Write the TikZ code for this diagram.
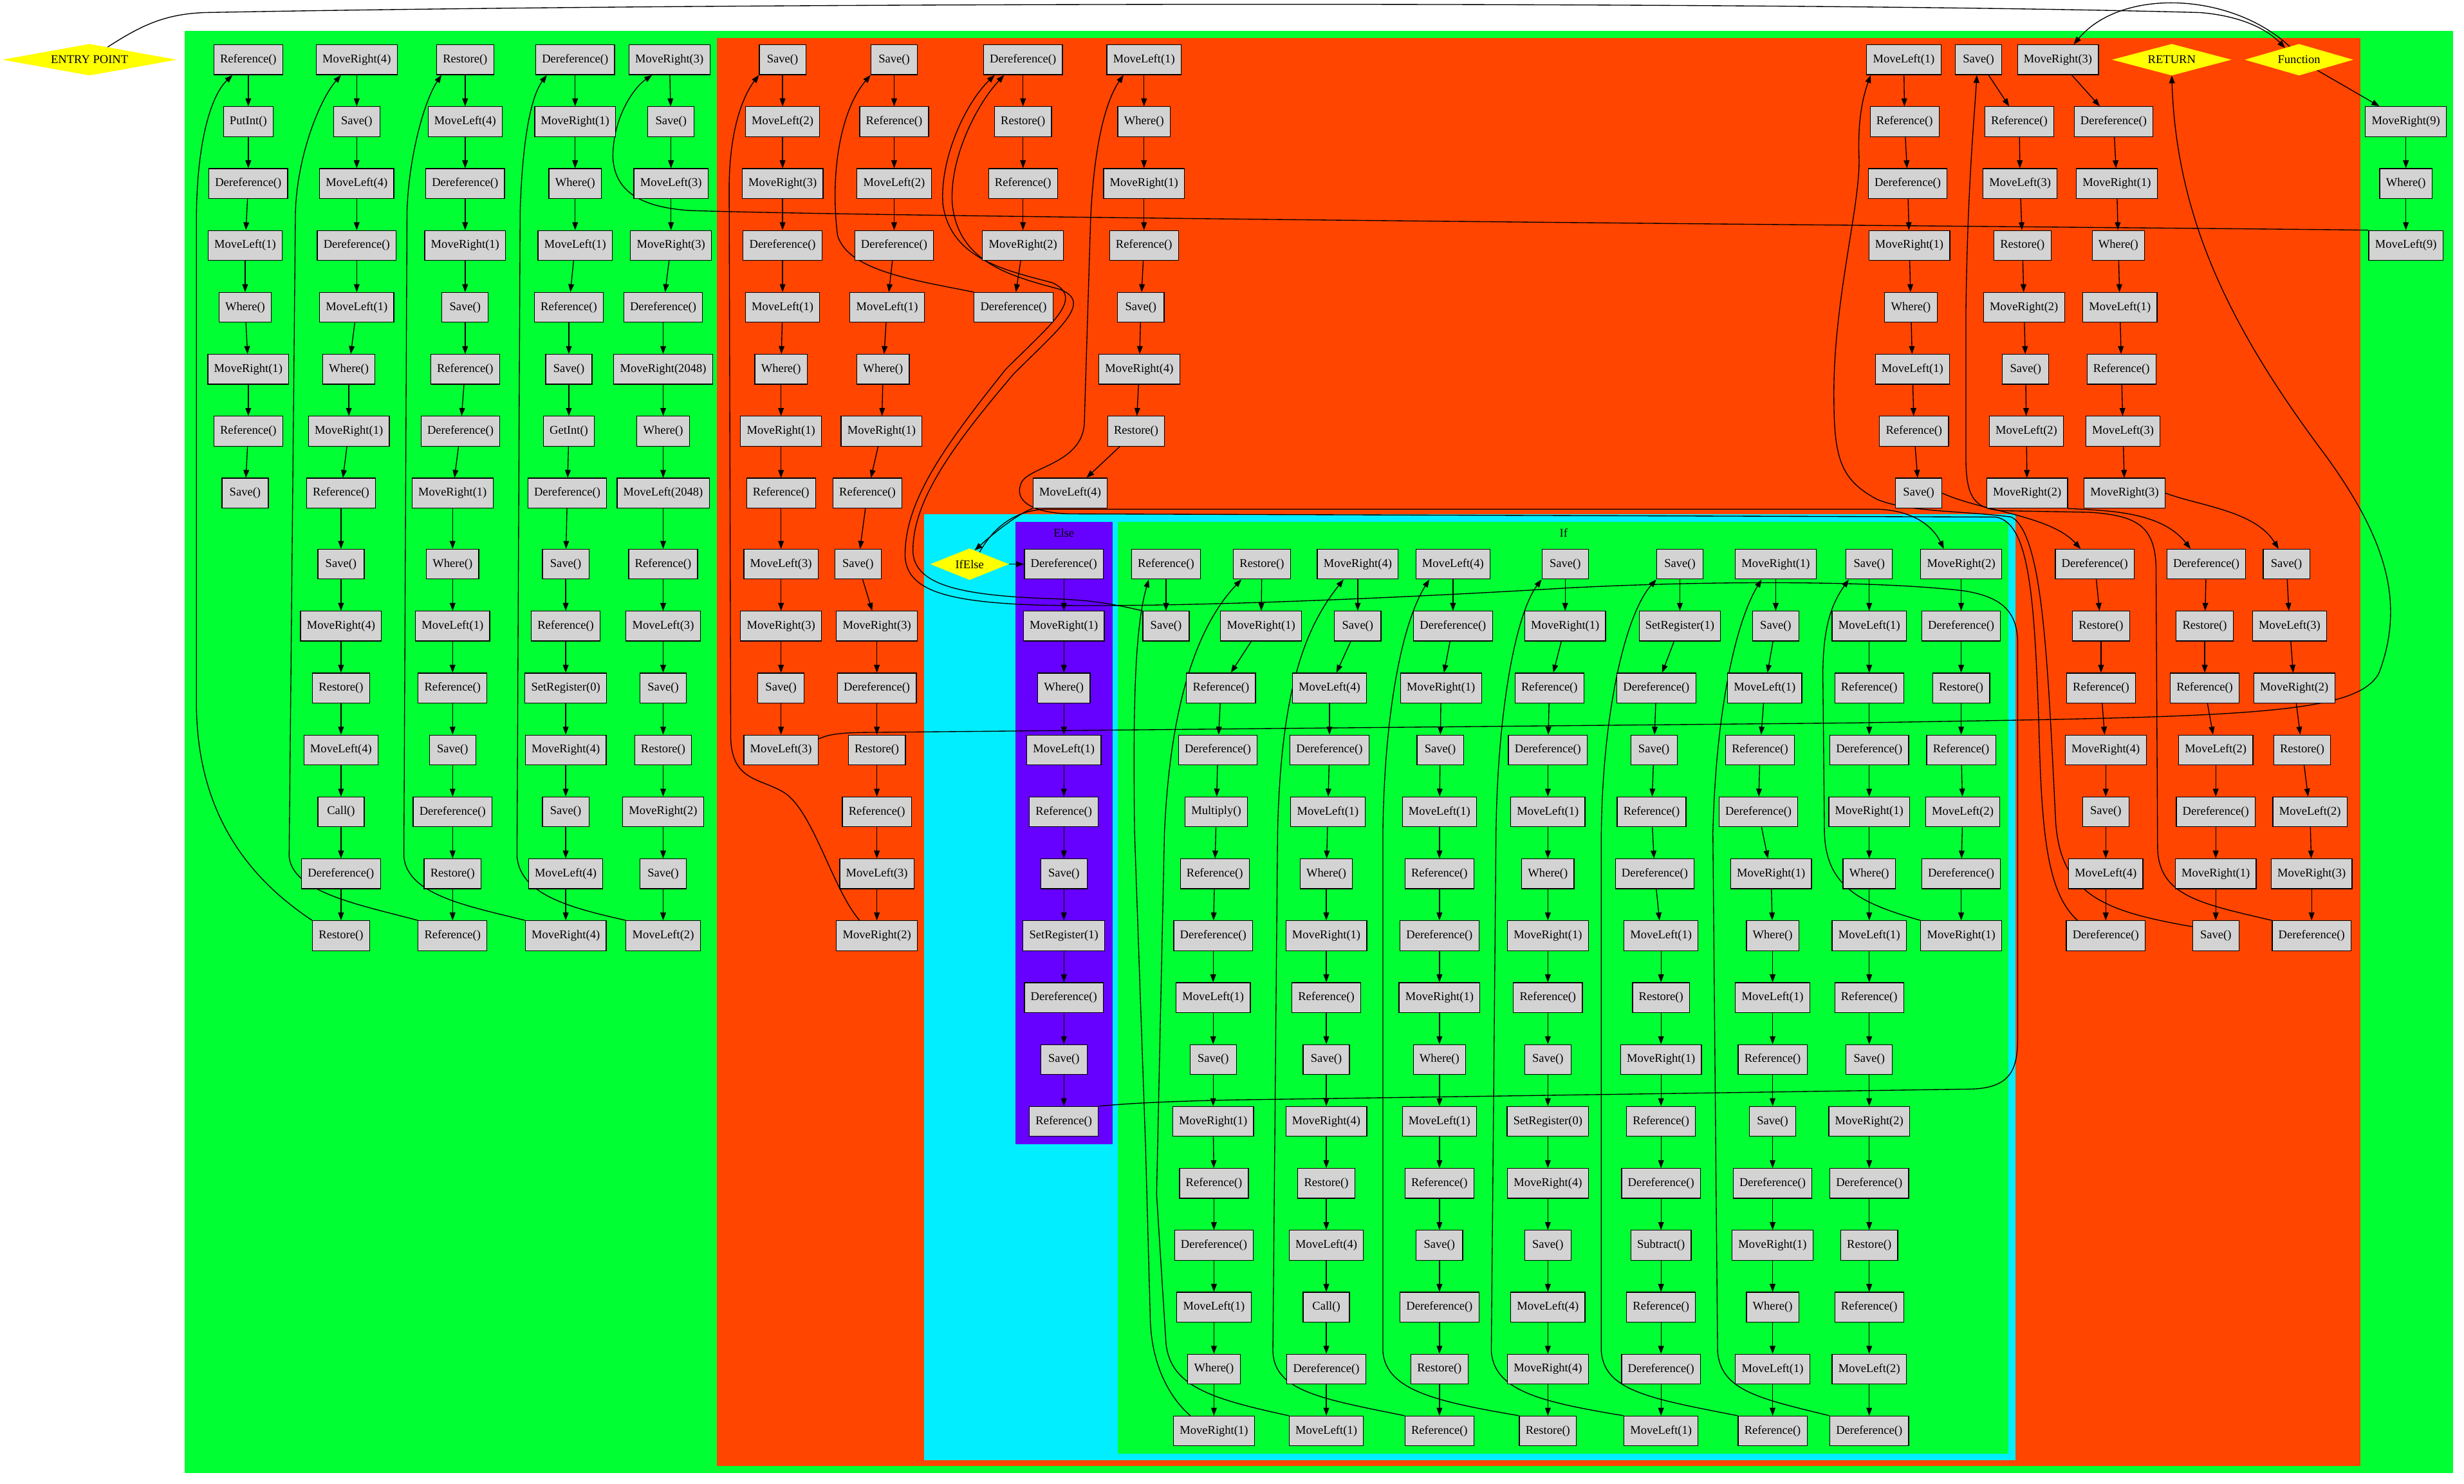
\documentclass[tikz,border=0pt]{standalone}
\usepackage{fontspec}
\setmainfont{Liberation Serif}
\usetikzlibrary{shapes.geometric,arrows.meta}
\definecolor{gvgreen}{HTML}{00FF33}
\definecolor{gvred}{HTML}{FF4500}
\definecolor{gvcyan}{HTML}{00EEFF}
\definecolor{gvpurple}{HTML}{6600FF}
\definecolor{gvgray}{HTML}{D3D3D3}
\definecolor{gvyellow}{HTML}{FFFF00}
\newcommand\gvfont{\fontsize{7.6}{9}\selectfont}
\pgfdeclarelayer{clusters}\pgfdeclarelayer{edges}\pgfsetlayers{clusters,edges,main}
\tikzset{
 box/.style={draw=black, line width=0.5pt, fill=gvgray, minimum height=19pt, minimum width=29.5pt, inner xsep=4pt, inner ysep=0pt, font=\gvfont},
 gvdiamond/.style={diamond, fill=gvyellow, draw=none, inner sep=0pt, outer sep=0pt, font=\gvfont},
 edge/.style={draw=black, line width=0.55pt, -{Triangle[length=5pt,width=3.6pt]}},
 clabel/.style={font=\gvfont, inner sep=0pt},
}
\newcommand\chainof[2]{\foreach \i [evaluate=\i as \j using int(\i+1)] in {1,...,#2}{\draw[edge] (#1\i) -- (#1\j);}}
\begin{document}
\begin{tikzpicture}[x=1pt,y=-1pt]
\useasboundingbox (0,0) rectangle (1568,944);
\begin{pgfonlayer}{clusters}
\fill[white] (0,0) rectangle (1568,944);
\fill[gvgreen] (117.5,19.5) rectangle (1561,937.5);
\fill[gvred] (456,24) rectangle (1502,933);
\fill[gvcyan] (588,327) rectangle (1282.5,929);
\fill[gvpurple] (646,332) rectangle (708,728);
\fill[gvgreen] (711.5,332) rectangle (1278,925);
\node[clabel] (elselabel) at (677,339) {Else};
\node[clabel] (iflabel) at (995,339) {If};
\end{pgfonlayer}

% diamonds
\node[gvdiamond, shape aspect=5.5, minimum width=111pt, minimum height=20pt] (entry) at (57,38) {ENTRY POINT};
\node[gvdiamond, shape aspect=3.8, minimum width=76pt, minimum height=20pt] (ret) at (1382,38) {RETURN};
\node[gvdiamond, shape aspect=3.45, minimum width=69pt, minimum height=20pt] (func) at (1463,38) {Function};
\node[gvdiamond, shape aspect=2.5, minimum width=50pt, minimum height=20pt] (ifelse) at (617,359) {IfElse};

% column A
\node[box] (A1) at (158,38) {Reference()};
\node[box] (A2) at (158,77.4) {PutInt()};
\node[box] (A3) at (158,116.8) {Dereference()};
\node[box] (A4) at (156,156.2) {MoveLeft(1)};
\node[box] (A5) at (156,195.6) {Where()};
\node[box] (A6) at (158,235) {MoveRight(1)};
\node[box] (A7) at (158,274.4) {Reference()};
\node[box] (A8) at (156,313.8) {Save()};
% column B
\node[box] (B1) at (227,38) {MoveRight(4)};
\node[box] (B2) at (227,77.4) {Save()};
\node[box] (B3) at (227,116.8) {MoveLeft(4)};
\node[box] (B4) at (227,156.2) {Dereference()};
\node[box] (B5) at (227,195.6) {MoveLeft(1)};
\node[box] (B6) at (222,235) {Where()};
\node[box] (B7) at (222,274.4) {MoveRight(1)};
\node[box] (B8) at (217,313.8) {Reference()};
\node[box] (B9) at (217,359) {Save()};
\node[box] (B10) at (217,398.4) {MoveRight(4)};
\node[box] (B11) at (217,437.8) {Restore()};
\node[box] (B12) at (217,477.2) {MoveLeft(4)};
\node[box] (B13) at (217,516.6) {Call()};
\node[box] (B14) at (217,556) {Dereference()};
\node[box] (B15) at (217,595.4) {Restore()};
% column C
\node[box] (C1) at (296,38) {Restore()};
\node[box] (C2) at (296,77.4) {MoveLeft(4)};
\node[box] (C3) at (296,116.8) {Dereference()};
\node[box] (C4) at (296,156.2) {MoveRight(1)};
\node[box] (C5) at (296,195.6) {Save()};
\node[box] (C6) at (296,235) {Reference()};
\node[box] (C7) at (293,274.4) {Dereference()};
\node[box] (C8) at (288,313.8) {MoveRight(1)};
\node[box] (C9) at (288,359) {Where()};
\node[box] (C10) at (288,398.4) {MoveLeft(1)};
\node[box] (C11) at (288,437.8) {Reference()};
\node[box] (C12) at (288,477.2) {Save()};
\node[box] (C13) at (288,516.6) {Dereference()};
\node[box] (C14) at (288,556) {Restore()};
\node[box] (C15) at (288,595.4) {Reference()};
% column D
\node[box] (D1) at (366,38) {Dereference()};
\node[box] (D2) at (366,77.4) {MoveRight(1)};
\node[box] (D3) at (366,116.8) {Where()};
\node[box] (D4) at (366,156.2) {MoveLeft(1)};
\node[box] (D5) at (362,195.6) {Reference()};
\node[box] (D6) at (362,235) {Save()};
\node[box] (D7) at (362,274.4) {GetInt()};
\node[box] (D8) at (361,313.8) {Dereference()};
\node[box] (D9) at (360,359) {Save()};
\node[box] (D10) at (360,398.4) {Reference()};
\node[box] (D11) at (360,437.8) {SetRegister(0)};
\node[box] (D12) at (360,477.2) {MoveRight(4)};
\node[box] (D13) at (360,516.6) {Save()};
\node[box] (D14) at (360,556) {MoveLeft(4)};
\node[box] (D15) at (360,595.4) {MoveRight(4)};
% column E
\node[box] (E1) at (426,38) {MoveRight(3)};
\node[box] (E2) at (427,77.4) {Save()};
\node[box] (E3) at (427,116.8) {MoveLeft(3)};
\node[box] (E4) at (427,156.2) {MoveRight(3)};
\node[box] (E5) at (422,195.6) {Dereference()};
\node[box] (E6) at (422,235) {MoveRight(2048)};
\node[box] (E7) at (422,274.4) {Where()};
\node[box] (E8) at (422,313.8) {MoveLeft(2048)};
\node[box] (E9) at (422,359) {Reference()};
\node[box] (E10) at (422,398.4) {MoveLeft(3)};
\node[box] (E11) at (422,437.8) {Save()};
\node[box] (E12) at (422,477.2) {Restore()};
\node[box] (E13) at (422,516.6) {MoveRight(2)};
\node[box] (E14) at (422,556) {Save()};
\node[box] (E15) at (422,595.4) {MoveLeft(2)};
% right main column
\node[box] (M1) at (1531,77.4) {MoveRight(9)};
\node[box] (M2) at (1531,116.8) {Where()};
\node[box] (M3) at (1531,156.2) {MoveLeft(9)};
% red P
\node[box] (P1) at (498,38) {Save()};
\node[box] (P2) at (498,77.4) {MoveLeft(2)};
\node[box] (P3) at (498,116.8) {MoveRight(3)};
\node[box] (P4) at (498,156.2) {Dereference()};
\node[box] (P5) at (498,195.6) {MoveLeft(1)};
\node[box] (P6) at (497,235) {Where()};
\node[box] (P7) at (497,274.4) {MoveRight(1)};
\node[box] (P8) at (497,313.8) {Reference()};
\node[box] (P9) at (497,359) {MoveLeft(3)};
\node[box] (P10) at (497,398.4) {MoveRight(3)};
\node[box] (P11) at (497,437.8) {Save()};
\node[box] (P12) at (497,477.2) {MoveLeft(3)};
% red Q
\node[box] (Q1) at (569,38) {Save()};
\node[box] (Q2) at (569,77.4) {Reference()};
\node[box] (Q3) at (569,116.8) {MoveLeft(2)};
\node[box] (Q4) at (569,156.2) {Dereference()};
\node[box] (Q5) at (564.5,195.6) {MoveLeft(1)};
\node[box] (Q6) at (562,235) {Where()};
\node[box] (Q7) at (561,274.4) {MoveRight(1)};
\node[box] (Q8) at (552,313.8) {Reference()};
\node[box] (Q9) at (546,359) {Save()};
\node[box] (Q10) at (558,398.4) {MoveRight(3)};
\node[box] (Q11) at (558,437.8) {Dereference()};
\node[box] (Q12) at (558,477.2) {Restore()};
\node[box] (Q13) at (558,516.6) {Reference()};
\node[box] (Q14) at (558,556) {MoveLeft(3)};
\node[box] (Q15) at (558,595.4) {MoveRight(2)};
% red S
\node[box] (S1) at (651,38) {Dereference()};
\node[box] (S2) at (651,77.4) {Restore()};
\node[box] (S3) at (651,116.8) {Reference()};
\node[box] (S4) at (651,156.2) {MoveRight(2)};
\node[box] (S5) at (645,195.6) {Dereference()};
% red U
\node[box] (U1) at (728,38) {MoveLeft(1)};
\node[box] (U2) at (728,77.4) {Where()};
\node[box] (U3) at (728,116.8) {MoveRight(1)};
\node[box] (U4) at (728,156.2) {Reference()};
\node[box] (U5) at (726,195.6) {Save()};
\node[box] (U6) at (725,235) {MoveRight(4)};
\node[box] (U7) at (723,274.4) {Restore()};
\node[box] (U8) at (681,313.8) {MoveLeft(4)};
% red V
\node[box] (V1) at (1211.5,38) {MoveLeft(1)};
\node[box] (V2) at (1212,77.4) {Reference()};
\node[box] (V3) at (1214,116.8) {Dereference()};
\node[box] (V4) at (1215,156.2) {MoveRight(1)};
\node[box] (V5) at (1216,195.6) {Where()};
\node[box] (V6) at (1217,235) {MoveLeft(1)};
\node[box] (V7) at (1218,274.4) {Reference()};
\node[box] (V8) at (1221,313.8) {Save()};
% red W
\node[box] (W1) at (1259,38) {Save()};
\node[box] (W2) at (1285,77.4) {Reference()};
\node[box] (W3) at (1285.5,116.8) {MoveLeft(3)};
\node[box] (W4) at (1287,156.2) {Restore()};
\node[box] (W5) at (1288,195.6) {MoveRight(2)};
\node[box] (W6) at (1289,235) {Save()};
\node[box] (W7) at (1289.5,274.4) {MoveLeft(2)};
\node[box] (W8) at (1290,313.8) {MoveRight(2)};
% red X
\node[box] (X1) at (1309.6,38) {MoveRight(3)};
\node[box] (X2) at (1345,77.4) {Dereference()};
\node[box] (X3) at (1347,116.8) {MoveRight(1)};
\node[box] (X4) at (1348,156.2) {Where()};
\node[box] (X5) at (1349,195.6) {MoveLeft(1)};
\node[box] (X6) at (1350,235) {Reference()};
\node[box] (X7) at (1351,274.4) {MoveLeft(3)};
\node[box] (X8) at (1352,313.8) {MoveRight(3)};
% red Y
\node[box] (Y1) at (1333,359) {Dereference()};
\node[box] (Y2) at (1337,398.4) {Restore()};
\node[box] (Y3) at (1337,437.8) {Reference()};
\node[box] (Y4) at (1340,477.2) {MoveRight(4)};
\node[box] (Y5) at (1340,516.6) {Save()};
\node[box] (Y6) at (1340,556) {MoveLeft(4)};
\node[box] (Y7) at (1340,595.4) {Dereference()};
% red Z
\node[box] (Z1) at (1404,359) {Dereference()};
\node[box] (Z2) at (1403,398.4) {Restore()};
\node[box] (Z3) at (1403,437.8) {Reference()};
\node[box] (Z4) at (1410,477.2) {MoveLeft(2)};
\node[box] (Z5) at (1410,516.6) {Dereference()};
\node[box] (Z6) at (1410,556) {MoveRight(1)};
\node[box] (Z7) at (1410,595.4) {Save()};
% red K
\node[box] (K1) at (1455,359) {Save()};
\node[box] (K2) at (1457,398.4) {MoveLeft(3)};
\node[box] (K3) at (1460,437.8) {MoveRight(2)};
\node[box] (K4) at (1465,477.2) {Restore()};
\node[box] (K5) at (1470,516.6) {MoveLeft(2)};
\node[box] (K6) at (1471,556) {MoveRight(3)};
\node[box] (K7) at (1471,595.4) {Dereference()};
% Else
\node[box] (EL1) at (677,359) {Dereference()};
\node[box] (EL2) at (677,398.4) {MoveRight(1)};
\node[box] (EL3) at (677,437.8) {Where()};
\node[box] (EL4) at (677,477.2) {MoveLeft(1)};
\node[box] (EL5) at (677,516.6) {Reference()};
\node[box] (EL6) at (677,556) {Save()};
\node[box] (EL7) at (677,595.4) {SetRegister(1)};
\node[box] (EL8) at (677,634.8) {Dereference()};
\node[box] (EL9) at (677,674.2) {Save()};
\node[box] (EL10) at (677,713.6) {Reference()};
% If IA
\node[box] (IA1) at (742,359) {Reference()};
\node[box] (IA2) at (742,398.4) {Save()};
% IB
\node[box] (IB1) at (803,359) {Restore()};
\node[box] (IB2) at (802.5,398.4) {MoveRight(1)};
\node[box] (IB3) at (777,437.8) {Reference()};
\node[box] (IB4) at (775,477.2) {Dereference()};
\node[box] (IB5) at (774,516.6) {Multiply()};
\node[box] (IB6) at (773,556) {Reference()};
\node[box] (IB7) at (772,595.4) {Dereference()};
\node[box] (IB8) at (772,634.8) {MoveLeft(1)};
\node[box] (IB9) at (772,674.2) {Save()};
\node[box] (IB10) at (772,713.6) {MoveRight(1)};
\node[box] (IB11) at (772.5,753) {Reference()};
\node[box] (IB12) at (772.5,792.4) {Dereference()};
\node[box] (IB13) at (772.5,831.8) {MoveLeft(1)};
\node[box] (IB14) at (772.5,871.2) {Where()};
\node[box] (IB15) at (772.5,910.6) {MoveRight(1)};
% IC
\node[box] (IC1) at (864,359) {MoveRight(4)};
\node[box] (IC2) at (864,398.4) {Save()};
\node[box] (IC3) at (846,437.8) {MoveLeft(4)};
\node[box] (IC4) at (846,477.2) {Dereference()};
\node[box] (IC5) at (845,516.6) {MoveLeft(1)};
\node[box] (IC6) at (844,556) {Where()};
\node[box] (IC7) at (844,595.4) {MoveRight(1)};
\node[box] (IC8) at (844,634.8) {Reference()};
\node[box] (IC9) at (844,674.2) {Save()};
\node[box] (IC10) at (844,713.6) {MoveRight(4)};
\node[box] (IC11) at (844,753) {Restore()};
\node[box] (IC12) at (844,792.4) {MoveLeft(4)};
\node[box] (IC13) at (844,831.8) {Call()};
\node[box] (IC14) at (844,871.2) {Dereference()};
\node[box] (IC15) at (844,910.6) {MoveLeft(1)};
% ID
\node[box] (ID1) at (924.6,359) {MoveLeft(4)};
\node[box] (ID2) at (924.6,398.4) {Dereference()};
\node[box] (ID3) at (917,437.8) {MoveRight(1)};
\node[box] (ID4) at (916.5,477.2) {Save()};
\node[box] (ID5) at (916,516.6) {MoveLeft(1)};
\node[box] (ID6) at (916,556) {Reference()};
\node[box] (ID7) at (916,595.4) {Dereference()};
\node[box] (ID8) at (916,634.8) {MoveRight(1)};
\node[box] (ID9) at (916,674.2) {Where()};
\node[box] (ID10) at (916,713.6) {MoveLeft(1)};
\node[box] (ID11) at (916,753) {Reference()};
\node[box] (ID12) at (916,792.4) {Save()};
\node[box] (ID13) at (916,831.8) {Dereference()};
\node[box] (ID14) at (916,871.2) {Restore()};
\node[box] (ID15) at (916,910.6) {Reference()};
% IE
\node[box] (IE1) at (996,359) {Save()};
\node[box] (IE2) at (996,398.4) {MoveRight(1)};
\node[box] (IE3) at (986,437.8) {Reference()};
\node[box] (IE4) at (985,477.2) {Dereference()};
\node[box] (IE5) at (985,516.6) {MoveLeft(1)};
\node[box] (IE6) at (985,556) {Where()};
\node[box] (IE7) at (985,595.4) {MoveRight(1)};
\node[box] (IE8) at (985,634.8) {Reference()};
\node[box] (IE9) at (985,674.2) {Save()};
\node[box] (IE10) at (985,713.6) {SetRegister(0)};
\node[box] (IE11) at (985,753) {MoveRight(4)};
\node[box] (IE12) at (985,792.4) {Save()};
\node[box] (IE13) at (985,831.8) {MoveLeft(4)};
\node[box] (IE14) at (985,871.2) {MoveRight(4)};
\node[box] (IE15) at (985,910.6) {Restore()};
% IF
\node[box] (IF1) at (1069,359) {Save()};
\node[box] (IF2) at (1069,398.4) {SetRegister(1)};
\node[box] (IF3) at (1054,437.8) {Dereference()};
\node[box] (IF4) at (1052.5,477.2) {Save()};
\node[box] (IF5) at (1051,516.6) {Reference()};
\node[box] (IF6) at (1053,556) {Dereference()};
\node[box] (IF7) at (1057,595.4) {MoveLeft(1)};
\node[box] (IF8) at (1057,634.8) {Restore()};
\node[box] (IF9) at (1057,674.2) {MoveRight(1)};
\node[box] (IF10) at (1057,713.6) {Reference()};
\node[box] (IF11) at (1057,753) {Dereference()};
\node[box] (IF12) at (1057,792.4) {Subtract()};
\node[box] (IF13) at (1057,831.8) {Reference()};
\node[box] (IF14) at (1057,871.2) {Dereference()};
\node[box] (IF15) at (1057,910.6) {MoveLeft(1)};
% IG
\node[box] (IG1) at (1130,359) {MoveRight(1)};
\node[box] (IG2) at (1130,398.4) {Save()};
\node[box] (IG3) at (1123,437.8) {MoveLeft(1)};
\node[box] (IG4) at (1120,477.2) {Reference()};
\node[box] (IG5) at (1119,516.6) {Dereference()};
\node[box] (IG6) at (1127,556) {MoveRight(1)};
\node[box] (IG7) at (1128,595.4) {Where()};
\node[box] (IG8) at (1128,634.8) {MoveLeft(1)};
\node[box] (IG9) at (1128,674.2) {Reference()};
\node[box] (IG10) at (1128,713.6) {Save()};
\node[box] (IG11) at (1128,753) {Dereference()};
\node[box] (IG12) at (1128,792.4) {MoveRight(1)};
\node[box] (IG13) at (1128,831.8) {Where()};
\node[box] (IG14) at (1128,871.2) {MoveLeft(1)};
\node[box] (IG15) at (1128,910.6) {Reference()};
% IH
\node[box] (IH1) at (1189.5,359) {Save()};
\node[box] (IH2) at (1189.5,398.4) {MoveLeft(1)};
\node[box] (IH3) at (1189.5,437.8) {Reference()};
\node[box] (IH4) at (1189.5,477.2) {Dereference()};
\node[box] (IH5) at (1189.5,516.6) {MoveRight(1)};
\node[box] (IH6) at (1189.5,556) {Where()};
\node[box] (IH7) at (1189.5,595.4) {MoveLeft(1)};
\node[box] (IH8) at (1189.5,634.8) {Reference()};
\node[box] (IH9) at (1189.5,674.2) {Save()};
\node[box] (IH10) at (1189.5,713.6) {MoveRight(2)};
\node[box] (IH11) at (1189.5,753) {Dereference()};
\node[box] (IH12) at (1189.5,792.4) {Restore()};
\node[box] (IH13) at (1189.5,831.8) {Reference()};
\node[box] (IH14) at (1189.5,871.2) {MoveLeft(2)};
\node[box] (IH15) at (1189.5,910.6) {Dereference()};
% II
\node[box] (II1) at (1248,359) {MoveRight(2)};
\node[box] (II2) at (1248,398.4) {Dereference()};
\node[box] (II3) at (1248,437.8) {Restore()};
\node[box] (II4) at (1248,477.2) {Reference()};
\node[box] (II5) at (1249,516.6) {MoveLeft(2)};
\node[box] (II6) at (1248,556) {Dereference()};
\node[box] (II7) at (1248,595.4) {MoveRight(1)};

\begin{pgfonlayer}{edges}
% straight chains
\chainof{A}{7}\chainof{B}{14}\chainof{C}{14}\chainof{D}{14}\chainof{E}{14}\chainof{M}{2}
\chainof{P}{11}\chainof{Q}{14}\chainof{S}{4}\chainof{U}{7}\chainof{V}{7}\chainof{W}{7}\chainof{X}{7}
\chainof{Y}{6}\chainof{Z}{6}\chainof{K}{6}\chainof{EL}{9}\chainof{IA}{1}
\chainof{IB}{14}\chainof{IC}{14}\chainof{ID}{14}\chainof{IE}{14}\chainof{IF}{14}\chainof{IG}{14}\chainof{IH}{14}\chainof{II}{6}
% entry and function
\draw[edge] (entry.35) .. controls (90,16) and (105,9) .. (130,8) .. controls (500,1) and (1150,1) .. (1400,8) .. controls (1425,10) and (1442,18) .. (func.140);
\draw[edge] (func.125) .. controls (1420,-5) and (1350,-8) .. ([xshift=10pt]X1.south |- X1.north);
\draw[edge] (func) -- (M1);
% main back edges
\draw[edge] (M3.north west) .. controls (1400,145) and (600,139) .. (440,134) .. controls (405,132) and (391,120) .. (390,100) .. controls (390,75) and (403,56) .. ([xshift=-11pt]E1.south);
\draw[edge] (E15.north west) .. controls (365,578) and (331,570) .. (329,545) -- (331,135) .. controls (332,100) and (336,64) .. ([xshift=-18pt]D1.south);
\draw[edge] (D15.north west) .. controls (300,577) and (259,570) .. (257,545) -- (259,135) .. controls (260,100) and (270,64) .. ([xshift=-15pt]C1.south);
\draw[edge] (C15.north west) .. controls (230,576) and (186,568) .. (184,545) -- (188,135) .. controls (189,100) and (203,64) .. ([xshift=-10pt]B1.south);
\draw[edge] (B15.north west) .. controls (160,560) and (126,520) .. (125,450) -- (125,140) .. controls (125,95) and (133,62) .. ([xshift=-10pt]A1.south);
% function body links
\draw[edge] (X8.east) .. controls (1400,322) and (1435,325) .. ([xshift=-5pt]K1.north);
\draw[edge] (K7.north west) .. controls (1400,575) and (1374,570) .. (1373,540) -- (1372,360) .. controls (1371,335) and (1360,328) .. (1330,326) -- (1275,325) .. controls (1255,324) and (1251,315) .. (1251,290) -- (1251,200) .. controls (1252,120) and (1256,80) .. ([xshift=-1pt]W1.south);
\draw[edge] (W8.south east) .. controls (1340,325) and (1375,325) .. ([xshift=-10pt]Z1.north);
\draw[edge] ([yshift=-4pt]Z7.north west) .. controls (1340,580) and (1310,570) .. (1308,520) .. controls (1303,420) and (1300,340) .. (1280,329) .. controls (1250,325) and (1215,326) .. (1195,318) .. controls (1170,305) and (1167,290) .. (1167,250) .. controls (1167,190) and (1184,130) .. (1183,100) .. controls (1182,75) and (1186,60) .. ([xshift=-21pt]V1.south);
\draw[edge] (V8.east) .. controls (1260,325) and (1305,328) .. ([xshift=-9pt]Y1.north);
\draw[edge] ([xshift=-18pt]Y7.north) .. controls (1305,570) and (1300,540) .. (1298,480) .. controls (1295,380) and (1292,333) .. (1270,329) -- (680,327) .. controls (655,326) and (645,318) .. (650,307) .. controls (655,297) and (688,295) .. (690,270) -- (694,140) .. controls (696,95) and (703,65) .. ([xshift=-13pt]U1.south);
\draw[edge] (U8.south west) .. controls (650,326) and (636,336) .. (ifelse.70);
\draw[edge] (ifelse) -- (EL1);
\draw[edge] (ifelse.50) .. controls (632,336) and (645,325) .. (665,324) -- (1195,324) .. controls (1218,325) and (1230,335) .. ([xshift=-11pt]II1.north);
% If back edges
\draw[edge] (II7.north west) .. controls (1185,575) and (1162,565) .. (1161,530) -- (1160,430) .. controls (1160,400) and (1165,385) .. ([xshift=-13pt]IH1.south);
\draw[edge] (IH15.north west) .. controls (1120,890) and (1095,885) .. (1093,860) -- (1090,530) .. controls (1092,450) and (1105,395) .. ([xshift=-9pt]IG1.south);
\draw[edge] (IG15.north west) .. controls (1050,890) and (1021,885) .. (1019,860) -- (1019,530) .. controls (1020,450) and (1035,390) .. ([xshift=-15pt]IF1.south);
\draw[edge] (IF15.north west) .. controls (980,892) and (951,885) .. (949,860) -- (952,530) .. controls (953,450) and (965,390) .. ([xshift=-15pt]IE1.south);
\draw[edge] (IE15.north west) .. controls (915,892) and (882,885) .. (880,860) -- (880,530) .. controls (881,450) and (893,395) .. ([xshift=-15pt]ID1.south);
\draw[edge] (ID15.north west) .. controls (840,890) and (811,885) .. (810,860) -- (813,530) .. controls (815,440) and (830,400) .. ([xshift=-9pt]IC1.south);
\draw[edge] (IC15.north west) .. controls (770,890) and (745,882) .. (742,855) -- (736,760) -- (741,530) .. controls (745,440) and (765,395) .. ([xshift=-13pt]IB1.south);
\draw[edge] ([xshift=-15pt]IB15.north) .. controls (745,890) and (733,870) .. (732,840) -- (729,730) -- (722,530) .. controls (721,450) and (722,400) .. ([xshift=-11pt]IA1.south);
% exits of the if/else
\draw[edge] (EL10.north east) .. controls (720,702) and (740,701) .. (780,700) -- (1255,693) .. controls (1280,692) and (1284,680) .. (1284,660) -- (1284,410) .. controls (1284,390) and (1275,380) .. (1250,376) .. controls (1200,370) and (1100,369) .. (1000,374) .. controls (900,380) and (750,387) .. (660,385) .. controls (600,383) and (578,375) .. (576,355) .. controls (575,320) and (600,285) .. (640,235) .. controls (670,205) and (690,190) .. (670,180) .. controls (640,172) and (605,165) .. (600,130) .. controls (598,100) and (615,65) .. ([xshift=-18pt]S1.south);
\draw[edge] (IA2.north west) .. controls (715,386) and (700,382) .. (670,381) .. controls (610,379) and (583,372) .. (581,352) .. controls (580,320) and (605,285) .. (645,238) .. controls (675,208) and (696,192) .. (674,184) .. controls (645,176) and (610,168) .. (606,130) .. controls (604,100) and (622,66) .. ([xshift=-12pt]S1.south);
% red back edges
\draw[edge] (S5.north west) .. controls (580,178) and (540,172) .. (533,150) .. controls (528,110) and (535,70) .. ([xshift=-15pt]Q1.south);
\draw[edge] ([xshift=-11pt]Q15.north) .. controls (530,566) and (518,518) .. (500,505) .. controls (485,495) and (466,498) .. (465,470) -- (464,120) .. controls (464,85) and (472,62) .. ([xshift=-15pt]P1.south);
\draw[edge] ([yshift=7pt]P12.east) .. controls (528,467) and (535,466) .. (560,466) -- (1180,460) .. controls (1420,456) and (1500,456) .. (1514,428) .. controls (1530,385) and (1520,345) .. (1480,290) .. controls (1420,210) and (1385,140) .. (ret.south);
\end{pgfonlayer}
\end{tikzpicture}
\end{document}
